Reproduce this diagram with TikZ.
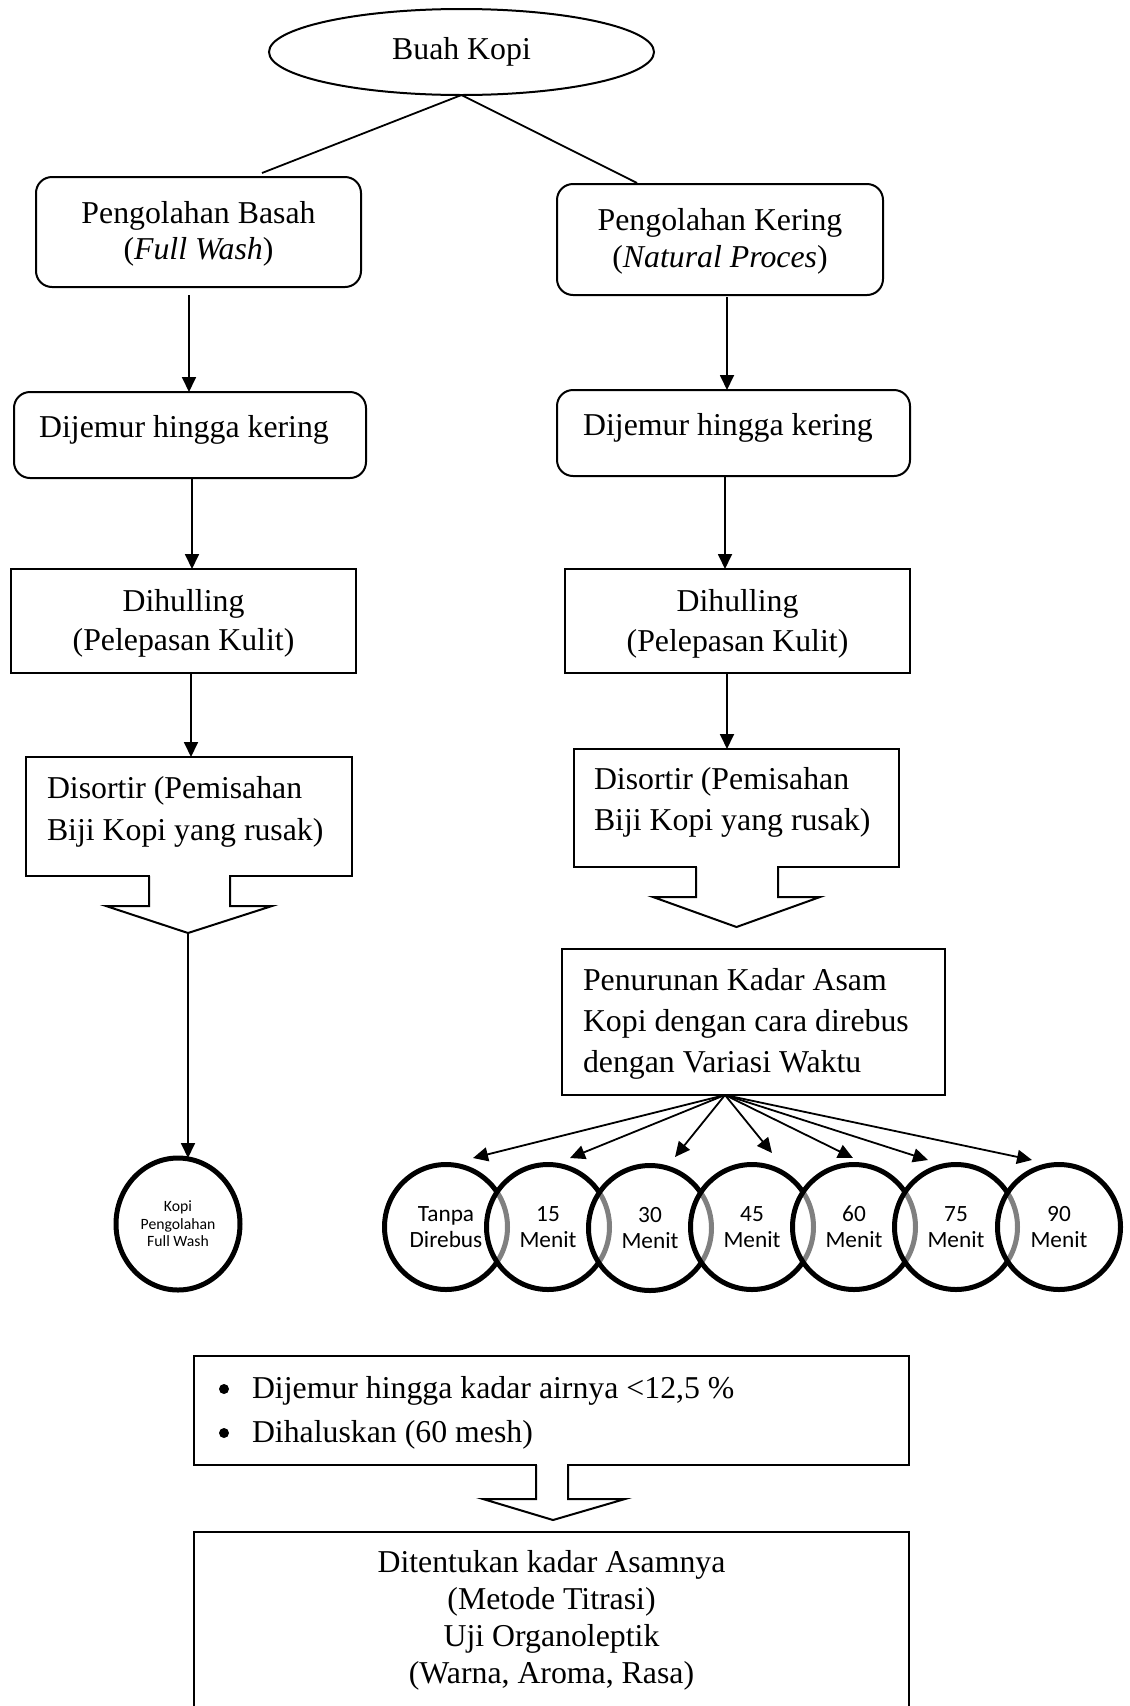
\documentclass[tikz,border=0pt]{standalone}
\usepackage{fontspec}
\setmainfont{Liberation Serif}
\newfontfamily\carlito{Carlito}
\usetikzlibrary{shapes.geometric,arrows.meta}
\begin{document}
\begin{tikzpicture}[x=1pt,y=-1pt,
  every node/.style={inner sep=0pt,outer sep=0pt},
  bx/.style={draw,line width=2pt},
  rbx/.style={bx,rounded corners=16pt},
  lbl/.style={font=\fontsize{31.8}{#1}\selectfont,align=center},
  lbll/.style={font=\fontsize{31.8}{#1}\selectfont,align=left,anchor=west},
  con/.style={line width=1.8pt},
  arr/.style={con,-{Triangle[length=15pt,width=14pt]}},
  blk/.style={line width=2pt},
  bul/.style={circle,fill,minimum size=10pt},
  circ/.style={ellipse,draw,line width=5pt,fill=white,fill opacity=0.5,draw opacity=1,text opacity=1,
    minimum width=123pt,minimum height=125pt,align=center,font=\carlito\fontsize{23.3}{26}\selectfont}
]
\useasboundingbox (0,0) rectangle (1130,1706);
\clip (0,0) rectangle (1130,1706);

% top
\node[ellipse,draw,line width=2pt,minimum width=385pt,minimum height=86pt,
      font=\fontsize{31.8}{36}\selectfont] (kopi) at (461.5,52) {Buah Kopi};
\coordinate (eL) at (262,173);
\coordinate (eR) at (637,183);
\draw[con] (kopi.south) -- (eL);
\draw[con] (kopi.south) -- (eR);

% boxes
\node[rbx,minimum width=325pt,minimum height=110pt] (b1L) at (198.5,232) {};
\node[lbl=36] (t1L) at (198.5,233.5) {Pengolahan Basah\\(\textit{Full Wash})};
\node[rbx,minimum width=326pt,minimum height=111pt] (b1R) at (720,239.5) {};
\node[lbl=37] (t1R) at (720,241) {Pengolahan Kering\\(\textit{Natural Proces})};

\node[rbx,minimum width=352pt,minimum height=86pt] (b2L) at (190,435) {};
\node[lbl=36] (t2L) at (184,429.6) {Dijemur hingga kering};
\node[rbx,minimum width=353pt,minimum height=86pt] (b2R) at (733.5,433) {};
\node[lbl=36] (t2R) at (728,427.6) {Dijemur hingga kering};

\node[bx,minimum width=345pt,minimum height=104pt] (b3L) at (183.5,621) {};
\node[lbl=39] (t3L) at (183.5,623.1) {Dihulling\\(Pelepasan Kulit)};
\node[bx,minimum width=345pt,minimum height=104pt] (b3R) at (737.5,621) {};
\node[lbl=40] (t3R) at (737.5,623.6) {Dihulling\\(Pelepasan Kulit)};

\node[bx,minimum width=326pt,minimum height=119pt] (b4L) at (189,816.5) {};
\node[lbll=42] (t4L) at (47,811.6) {Disortir (Pemisahan\\Biji Kopi yang rusak)};
\node[bx,minimum width=325pt,minimum height=118pt] (b4R) at (736.5,808) {};
\node[lbll=41] (t4R) at (594,802.6) {Disortir (Pemisahan\\Biji Kopi yang rusak)};

\node[bx,minimum width=383pt,minimum height=146pt] (b5) at (753.5,1022) {};
\node[lbll=41] (t5) at (583,1023.6) {Penurunan Kadar Asam\\Kopi dengan cara direbus\\dengan Variasi Waktu};

\node[bx,minimum width=715pt,minimum height=109pt] (b6) at (551.5,1410.5) {};
\node[bul] (u1) at (224,1389) {};
\node[bul] (u2) at (224,1433) {};
\node[lbll=44] (t6) at (252,1412.6) {Dijemur hingga kadar airnya <12,5 \%\\Dihaluskan (60 mesh)};

\node[bx,minimum width=715pt,minimum height=180pt] (b7) at (551.5,1622) {};
\node[lbl=37] (t7) at (551.5,1620) {Ditentukan kadar Asamnya\\(Metode Titrasi)\\Uji Organoleptik\\(Warna, Aroma, Rasa)};

% vertical arrows
\coordinate (s1L) at (189,295); \draw[arr] (s1L) -- (s1L |- b2L.north);
\coordinate (s1R) at (727,297); \draw[arr] (s1R) -- (s1R |- b2R.north);
\coordinate (s2L) at (192,478); \draw[arr] (s2L) -- (s2L |- b3L.north);
\coordinate (s2R) at (725,476); \draw[arr] (s2R) -- (s2R |- b3R.north);
\coordinate (s3L) at (191,673); \draw[arr] (s3L) -- (s3L |- b4L.north);
\coordinate (s3R) at (727,673); \draw[arr] (s3R) -- (s3R |- b4R.north);

% block arrows
\fill[white] (150,874.5) rectangle (229,877.5);
\draw[blk] (149,876) -- (149,906) -- (106,906) -- (188,933) -- (272,906) -- (230,906) -- (230,876);
\coordinate (tipL) at (188,933);
\fill[white] (697,865.5) rectangle (777,868.5);
\draw[blk] (696,867) -- (696,897) -- (653,897) -- (736.5,927) -- (820,897) -- (778,897) -- (778,867);
\fill[white] (537,1463.5) rectangle (567,1466.5);
\draw[blk] (536,1465) -- (536,1499) -- (483,1499) -- (553,1520) -- (625,1499) -- (568,1499) -- (568,1465);

% full wash circle
\node[ellipse,draw,line width=5pt,minimum width=124pt,minimum height=132pt,align=center,
      font=\carlito\fontsize{15.7}{17.6}\selectfont] (cFW) at (178,1224) {Kopi\\Pengolahan\\Full Wash};
\draw[arr] (tipL) -- (tipL |- cFW.north);

% time circles
\node[circ] (c0) at (446,1227) {Tanpa\\Direbus};
\node[circ] (c1) at (548,1227) {15\\Menit};
\node[circ] (c2) at (650,1228) {30\\Menit};
\node[circ] (c3) at (752,1227) {45\\Menit};
\node[circ] (c4) at (854,1227) {60\\Menit};
\node[circ] (c5) at (956,1227) {75\\Menit};
\node[circ] (c6) at (1059,1227) {90\\Menit};

% fan arrows
\coordinate (fan) at (725,1095);
\coordinate (f0) at (473,1158);
\coordinate (f1) at (570,1158);
\coordinate (f2) at (675,1157);
\coordinate (f3) at (772,1153);
\coordinate (f4) at (853,1158);
\coordinate (f5) at (928,1160);
\coordinate (f6) at (1032,1160);
\foreach \k in {0,...,6} \draw[arr] (fan) -- (f\k);
\end{tikzpicture}
\end{document}
